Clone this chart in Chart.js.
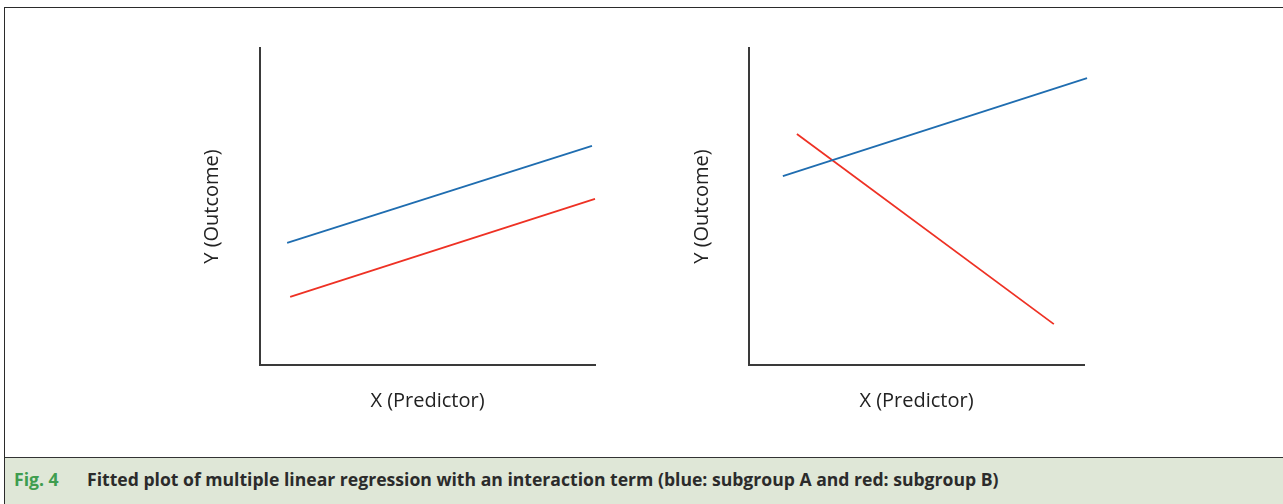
<!DOCTYPE html>
<html>
<head>
<meta charset="utf-8">
<script src="https://cdn.jsdelivr.net/npm/chart.js@4/dist/chart.umd.min.js"></script>
<style>
  html, body { margin: 0; padding: 0; background: #fff; }
  body { width: 1283px; height: 504px; position: relative; overflow: hidden; font-family: "Open Sans", sans-serif; }
  #frame { position: absolute; left: 4px; top: 7px; width: 1300px; height: 510px; border-top: 1.5px solid #2b2b2b; border-left: 1.5px solid #2b2b2b; }
  .plot { position: absolute; top: 30px; width: 440px; height: 390px; }
  #caption { position: absolute; left: 5px; top: 457px; width: 1300px; height: 50px; background: #dfe7d7; border-top: 1.5px solid #333; }
  #caption span { position: absolute; top: 9px; font-weight: 700; font-size: 17.6px; white-space: nowrap; }
  #fig { left: 9px; color: #3f9d4f; }
  #captext { left: 82px; color: #2b2b2b; }
</style>
</head>
<body>
<div id="frame"></div>
<div class="plot" style="left:180px"><canvas id="leftChart" width="440" height="390"></canvas></div>
<div class="plot" style="left:680px"><canvas id="rightChart" width="440" height="390"></canvas></div>
<div id="caption">
  <span id="fig">Fig. 4</span>
  <span id="captext">Fitted plot of multiple linear regression with an interaction term (blue: subgroup A and red: subgroup B)</span>
</div>
<script>
// Значения читаются с картинки, шкала 0..10 по обеим осям
const xLabel = 'X (Predictor)';
const yLabel = 'Y (Outcome)';

// Левый график: параллельные линии
const leftBlueX = [0.81, 9.91];
const leftBlueY = [3.85, 6.91];
const leftRedX = [0.90, 10.0];
const leftRedY = [2.15, 5.24];

// Правый график: линии пересекаются
const rightBlueX = [1.01, 10.09];
const rightBlueY = [5.96, 9.05];
const rightRedX = [1.43, 9.10];
const rightRedY = [7.29, 1.29];

const blue = '#1f6db0';
const red = '#ee3124';
const axisColor = '#3a3a3a';

function points(xs, ys) {
  return xs.map((x, i) => ({ x: x, y: ys[i] }));
}

function makeChart(id, blueXs, blueYs, redXs, redYs, yWidth, yTitlePad, rightPad) {
  const ctx = document.getElementById(id).getContext('2d');
  return new Chart(ctx, {
    type: 'line',
    data: {
      datasets: [{
          label: 'subgroup A',
          data: points(blueXs, blueYs),
          borderColor: blue,
          borderWidth: 1.8,
          pointRadius: 0,
          clip: false
        },
        {
          label: 'subgroup B',
          data: points(redXs, redYs),
          borderColor: red,
          borderWidth: 1.8,
          pointRadius: 0,
          clip: false
        }
      ]
    },
    options: {
      responsive: false,
      animation: false,
      events: [],
      layout: {
        padding: { top: 18, right: rightPad, left: 0, bottom: 0 }
      },
      plugins: {
        legend: { display: false },
        tooltip: { enabled: false }
      },
      scales: {
        x: {
          type: 'linear',
          min: 0,
          max: 10,
          grid: { display: false, drawTicks: false },
          border: { color: axisColor, width: 2 },
          ticks: { display: false },
          title: {
            display: true,
            text: xLabel,
            color: '#222',
            font: { family: 'Open Sans', size: 20 },
            padding: { top: 7, bottom: 7 }
          },
          afterFit: function (scale) { scale.height = 55; }
        },
        y: {
          type: 'linear',
          min: 0,
          max: 10,
          grid: { display: false, drawTicks: false },
          border: { color: axisColor, width: 2 },
          ticks: { display: false },
          title: {
            display: true,
            text: yLabel,
            color: '#222',
            font: { family: 'Open Sans', size: 20 },
            padding: { top: yTitlePad, bottom: yTitlePad }
          },
          afterFit: function (scale) { scale.width = yWidth; }
        }
      }
    }
  });
}

makeChart('leftChart', leftBlueX, leftBlueY, leftRedX, leftRedY, 80, 20, 25);
makeChart('rightChart', rightBlueX, rightBlueY, rightRedX, rightRedY, 69, 10, 36);
</script>
</body>
</html>
